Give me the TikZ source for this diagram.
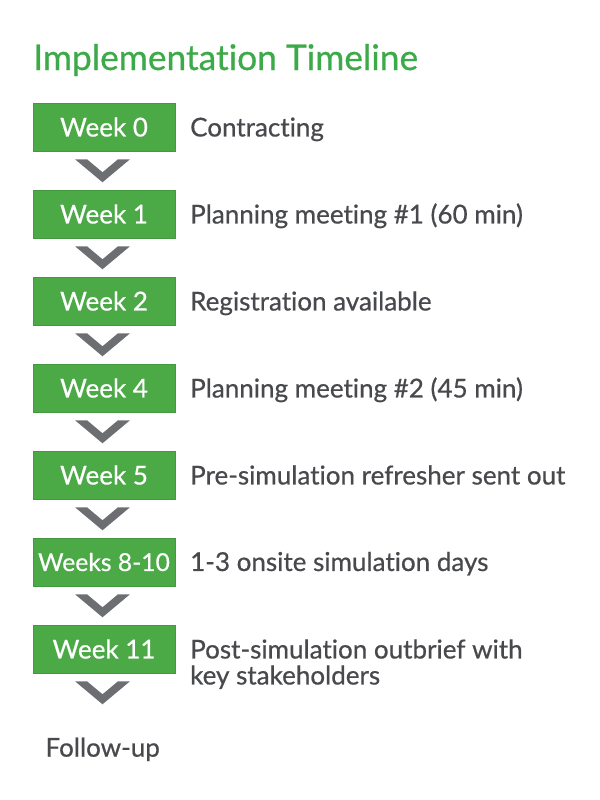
\documentclass[tikz,border=0pt]{standalone}
\usepackage{fontspec}
\setmainfont{Lato}[Ligatures=NoCommon, UprightFeatures={FakeBold=0.6}]
\usetikzlibrary{positioning, calc}
\definecolor{boxgreen}{HTML}{4BA946}
\definecolor{titlegreen}{HTML}{3DAA49}
\definecolor{textgray}{HTML}{48494D}
\definecolor{chevgray}{HTML}{6D6E71}

\begin{document}
\begin{tikzpicture}[
  x=0.75pt, y=-0.75pt,
  weekbox/.style={fill=boxgreen, draw=boxgreen!90!black, line width=0.4pt, minimum width=106.5pt, minimum height=36pt, inner sep=0pt, text=white, font=\fontsize{19.5}{24}\selectfont},
  desc/.style={text=textgray, font=\fontsize{19.5}{19.5}\selectfont, align=left, inner sep=0pt},
  chev/.style={fill=chevgray}
]
\useasboundingbox (0,0) rectangle (600,800);

% Title
\node[anchor=base west, inner sep=0pt, text=titlegreen, font=\fontsize{26.5}{30}\selectfont] (title) at (33,70) {Implementation Timeline};

% Week boxes with what happens (\drop lowers a two-line text so its first line sits level with the box)
\foreach \i/\wk/\txt/\drop in {0/Week 0/Contracting/0,
                         1/Week 1/{Planning meeting \#1 (60 min)}/0,
                         2/Week 2/Registration available/0,
                         3/Week 4/{Planning meeting \#2 (45 min)}/0,
                         4/Week 5/Pre-simulation refresher sent out/0,
                         5/{\fontsize{18.5}{24}\selectfont Weeks 8-10}/1-3 onsite simulation days/0,
                         6/Week 11/{Post-simulation outbrief with\\key stakeholders}/19.5} {
  \node[weekbox] (w\i) at (104, {127+87*\i}) {\wk};
  \node[desc, right=11pt of w\i.base east, anchor=base west, yshift=-\drop pt] (d\i) {\txt};
  % chevron under the box
  \fill[chev, shift={(w\i.south)}] (-29,8) -- (-17,8) -- (-1.5,21) -- (14,8) -- (26,8) -- (-1.5,31) -- cycle;
}

% Last step
\node[desc, below=48pt of w6, xshift=-1pt, font=\fontsize{19.5}{22}\selectfont] (follow) {Follow-up};

\end{tikzpicture}
\end{document}
